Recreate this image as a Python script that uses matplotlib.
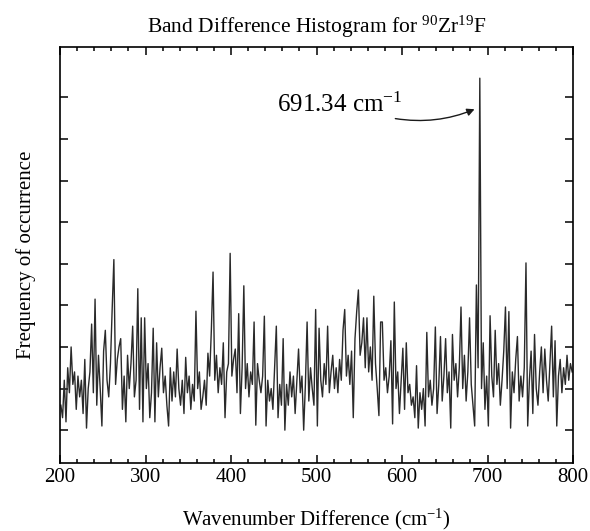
import matplotlib
matplotlib.use("Agg")
import matplotlib.pyplot as plt
import numpy as np

plt.rcParams['font.family'] = ['Liberation Serif', 'DejaVu Serif']
plt.rcParams['mathtext.fontset'] = 'custom'
plt.rcParams['mathtext.rm'] = 'Liberation Serif'
plt.rcParams['mathtext.it'] = 'Liberation Serif:italic'

# histogram bins: 2 cm^-1 wide, first centre at 201 cm^-1
bin_start = 201
bin_width = 2

# frequency of occurrence per bin (arbitrary units), 10 bins per row
counts = [
    0.6, 0.3, 1.2, 0.2, 1.5, 0.9, 2.0, 1.1, 1.4, 0.5,
    1.3, 0.8, 1.2, 0.4, 1.7, 0.05, 1.0, 1.4, 2.55, 0.9,
    3.15, 0.6, 1.8, 1.0, 0.1, 1.9, 2.4, 1.2, 0.8, 1.6,
    2.9, 4.1, 1.1, 1.7, 2.0, 2.2, 0.5, 1.3, 0.2, 1.8,
    1.0, 1.6, 2.5, 0.8, 1.2, 3.4, 0.5, 2.7, 0.2, 2.7,
    1.0, 1.6, 0.3, 0.9, 2.45, 0.2, 2.1, 0.8, 1.5, 1.97,
    0.9, 1.3, 0.6, 0.1, 1.5, 0.7, 1.4, 0.8, 1.95, 1.0,
    0.6, 1.2, 0.4, 1.75, 0.9, 1.3, 0.5, 1.1, 0.7, 2.86,
    1.0, 1.4, 0.5, 0.8, 1.2, 0.6, 1.85, 1.3, 2.4, 3.8,
    1.2, 1.8, 0.9, 1.5, 1.1, 2.1, 0.3, 1.4, 1.6, 4.25,
    1.3, 1.7, 1.95, 0.9, 2.8, 0.4, 1.5, 3.47, 1.0, 1.6,
    0.8, 1.4, 1.1, 2.6, 0.12, 1.6, 1.2, 0.9, 1.3, 2.74,
    0.1, 1.2, 0.7, 1.0, 0.5, 1.5, 2.5, 0.3, 1.1, 0.6,
    2.2, 0.0, 1.1, 0.6, 1.4, 0.8, 1.3, 0.4, 1.2, 1.95,
    0.9, 1.3, 0.0, 1.1, 2.6, 0.7, 1.5, 1.0, 0.6, 2.9,
    0.1, 2.45, 1.2, 0.8, 1.6, 1.1, 2.5, 0.9, 1.4, 1.8,
    1.0, 1.5, 0.9, 1.7, 1.2, 2.4, 2.9, 1.3, 1.8, 1.1,
    1.9, 0.3, 2.2, 2.85, 3.37, 1.8, 2.1, 2.7, 1.5, 2.7,
    1.4, 2.0, 1.2, 3.22, 1.6, 1.0, 0.35, 2.6, 2.6, 1.2,
    1.5, 0.9, 1.3, 2.15, 0.15, 3.08, 1.0, 1.4, 0.4, 1.2,
    1.97, 0.5, 2.1, 0.9, 1.1, 0.6, 0.8, 0.3, 1.55, 0.05,
    0.9, 0.5, 1.0, 0.1, 2.35, 0.8, 1.2, 0.6, 1.0, 2.48,
    0.4, 1.1, 2.25, 0.7, 1.3, 2.2, 0.9, 1.4, 0.05, 2.3,
    1.2, 1.6, 0.8, 1.5, 2.96, 1.0, 1.8, 0.7, 1.4, 2.7,
    1.1, 0.6, 0.1, 3.49, 1.5, 8.46, 1.0, 2.1, 0.5, 1.3,
    0.1, 2.75, 1.3, 0.8, 2.4, 1.1, 1.6, 0.6, 1.2, 1.9,
    2.96, 1.0, 2.85, 0.05, 1.4, 0.9, 1.7, 2.25, 0.7, 1.3,
    0.8, 1.5, 4.02, 0.1, 1.2, 1.9, 0.4, 2.3, 1.0, 0.6,
    1.4, 2.0, 0.9, 1.95, 1.2, 0.7, 1.6, 2.5, 0.8, 2.15,
    0.1, 1.3, 1.7, 0.9, 1.5, 1.1, 1.8, 1.2, 1.6, 1.4,
]
wavenumber = bin_start + bin_width * np.arange(len(counts))

peak_pos = 691.34
peak_label = "691.34 cm$^{\\mathrm{-1}}$"

fig = plt.figure(figsize=(5.9, 5.31), dpi=100)
ax = fig.add_axes([0.1017, 0.128, 0.8695, 0.7835])

ax.plot(wavenumber, counts, color='#2a2a2a', lw=1.0)

ax.set_xlim(200, 800)
ax.set_ylim(-0.79, 9.21)
ax.set_xticks(np.arange(200, 801, 100))
ax.set_xticks(np.arange(200, 801, 20), minor=True)
ax.set_yticks(np.arange(0, 9, 1))
ax.set_yticklabels([])
ax.tick_params(which='both', direction='in', top=True, right=True, width=1.1)
ax.tick_params(which='major', length=6, labelsize=15)
ax.tick_params(which='minor', length=3)
for s in ax.spines.values():
    s.set_linewidth(1.2)

ax.set_xlabel("Wavenumber Difference (cm$^{\\mathrm{-1}}$)", fontsize=15, labelpad=14)
ax.set_ylabel("Frequency of occurrence", fontsize=15, labelpad=14)
ax.set_title("Band Difference Histogram for $^{\\mathrm{90}}$Zr$^{\\mathrm{19}}$F",
             fontsize=15.5, pad=10)

ax.annotate("", xy=(peak_pos - 3.5, 7.74), xytext=(589, 7.5),
            arrowprops=dict(arrowstyle='-|>', color='#1a1a1a', lw=1.0,
                            mutation_scale=11, connectionstyle='arc3,rad=0.15'))
ax.text(454, 7.64, peak_label, fontsize=18, ha='left', va='baseline')

fig.savefig("out.png", dpi=100)
